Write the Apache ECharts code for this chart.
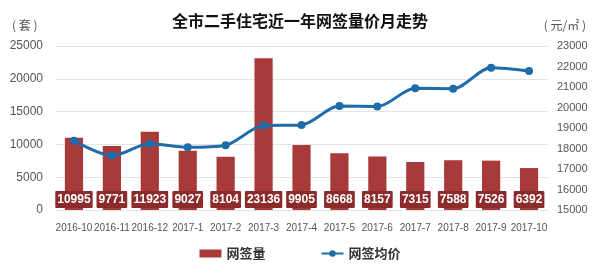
<!DOCTYPE html>
<html><head><meta charset="utf-8">
<script src="https://cdn.jsdelivr.net/npm/echarts@6/dist/echarts.min.js"></script>
<style>html,body{margin:0;padding:0;background:#fff}#c{width:600px;height:269px}</style>
</head><body><div id="c"></div>
<script>
const categories = ['2016-10','2016-11','2016-12','2017-1','2017-2','2017-3','2017-4','2017-5','2017-6','2017-7','2017-8','2017-9','2017-10'];
const volume = [10995,9771,11923,9027,8104,23136,9905,8668,8157,7315,7588,7526,6392];
const price = [18380,17650,18230,18060,18160,19120,19150,20070,20050,20940,20920,21940,21780];
const leftTicks = [0,5000,10000,15000,20000,25000];
const rightTicks = [15000,16000,17000,18000,19000,20000,21000,22000,23000];

const chart = echarts.init(document.getElementById('c'), null, {renderer:'canvas'});
const font = '"Noto Sans CJK SC",sans-serif';
const numFont = '"Liberation Sans","Noto Sans CJK SC",sans-serif';
chart.setOption({
  animation:false,
  textStyle:{fontFamily:font},
  title:{text:'全市二手住宅近一年网签量价月走势',left:'center',top:8,
    textStyle:{fontSize:16,fontWeight:'bold',color:'#111',fontFamily:font}},
  graphic:[
    {type:'text',left:12,top:19,style:{text:'( 套 )',fill:'#555',font:'12px '+font}},
    {type:'text',right:14,top:19,style:{text:'( 元/㎡ )',fill:'#555',font:'12px '+font}}
  ],
  grid:{left:55,right:52,top:46,bottom:59},
  legend:{bottom:4,left:'center',itemGap:55,itemWidth:22,itemHeight:8,
    textStyle:{fontSize:13,fontWeight:'bold',color:'#333'},
    data:[{name:'网签量',icon:'rect'},{name:'网签均价'}]},
  xAxis:{type:'category',data:categories,
    axisLine:{show:false},axisTick:{show:false},
    axisLabel:{color:'#555',fontSize:10,margin:13,interval:0,fontFamily:numFont}},
  yAxis:[
    {type:'value',min:leftTicks[0],max:leftTicks[leftTicks.length-1],interval:5000,
     axisLine:{show:false},axisTick:{show:false},
     axisLabel:{color:'#555',fontSize:12,margin:12,fontFamily:numFont,formatter:v=>String(v)},
     splitLine:{lineStyle:{color:'#e3e3e3'}}},
    {type:'value',min:rightTicks[0],max:rightTicks[rightTicks.length-1],interval:1000,
     axisLine:{show:false},axisTick:{show:false},
     axisLabel:{color:'#555',fontSize:11,margin:9,fontFamily:numFont,formatter:v=>String(v)},
     splitLine:{show:false}}
  ],
  series:[
    {name:'网签量',type:'bar',data:volume,barWidth:'48%',yAxisIndex:0,
     itemStyle:{color:'#a83a3a'},
     label:{show:true,position:'insideBottom',distance:2,color:'#fff',fontWeight:'bold',fontSize:12,
       fontFamily:numFont,formatter:p=>String(p.value),
       backgroundColor:'#8c2b2b',padding:[3,2,2,2],borderRadius:1}},
    {name:'网签均价',type:'line',data:price,yAxisIndex:1,smooth:0.3,
     symbol:'circle',symbolSize:8,
     lineStyle:{color:'#1f6cab',width:3},itemStyle:{color:'#1f6cab'}}
  ]
});
</script></body></html>
